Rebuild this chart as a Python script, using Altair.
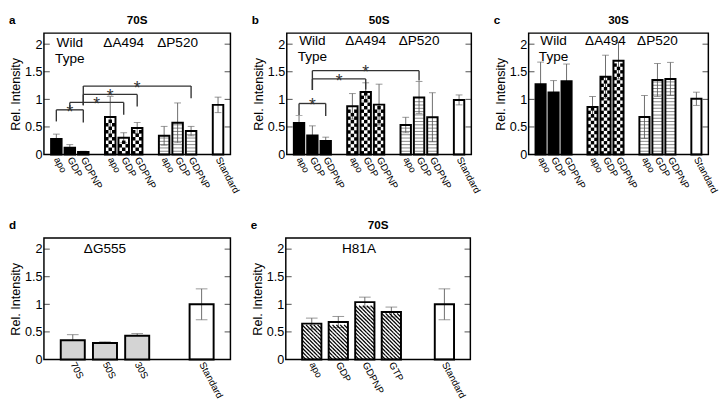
import altair as alt
import pandas as pd
import numpy as np

# ---------------- data ----------------
TOP_COND = ["apo", "GDP", "GDPNP", "apo", "GDP", "GDPNP", "apo", "GDP", "GDPNP", "Standard"]
TOP_GRP = ["WT", "WT", "WT", "A494", "A494", "A494", "P520", "P520", "P520", "Std"]

A_VAL = [0.28, 0.125, 0.045, 0.68, 0.305, 0.48, 0.34, 0.575, 0.425, 0.90]
A_ERR = [0.09, 0.055, 0.015, 0.375, 0.09, 0.10, 0.17, 0.36, 0.085, 0.14]

B_VAL = [0.57, 0.345, 0.245, 0.875, 1.135, 0.905, 0.535, 1.035, 0.675, 0.99]
B_ERR = [0.14, 0.175, 0.07, 0.23, 0.165, 0.37, 0.14, 0.29, 0.445, 0.09]

C_VAL = [1.275, 1.125, 1.33, 0.86, 1.41, 1.70, 0.68, 1.35, 1.37, 1.01]
C_ERR = [0.40, 0.215, 0.31, 0.19, 0.39, 0.33, 0.39, 0.30, 0.30, 0.12]

D_COND = ["70S", "50S", "30S", "Standard"]
D_GRP = ["G555", "G555", "G555", "Std"]
D_VAL = [0.35, 0.30, 0.43, 1.00]
D_ERR = [0.10, 0.02, 0.04, 0.28]

E_COND = ["apo", "GDP", "GDPNP", "GTP", "Standard"]
E_GRP = ["H81A", "H81A", "H81A", "H81A", "Std"]
E_VAL = [0.65, 0.68, 1.04, 0.86, 1.00]
E_ERR = [0.10, 0.10, 0.09, 0.09, 0.28]

# significance brackets: left bar, right bar, level, left-leg end, right-leg end
A_BR_LEFT = ["WT|apo", "WT|GDP", "WT|GDPNP", "WT|GDPNP"]
A_BR_RIGHT = ["WT|GDPNP", "A494|GDP", "A494|GDPNP", "P520|GDPNP"]
A_BR_LEVEL = [0.81, 0.945, 1.09, 1.24]
A_BR_LEND = [0.60, 0.81, 0.895, 0.895]
A_BR_REND = [0.58, 0.72, 0.87, 1.02]

B_BR_LEFT = ["WT|apo", "WT|GDP", "WT|GDP"]
B_BR_RIGHT = ["WT|GDPNP", "A494|GDP", "P520|GDP"]
B_BR_LEVEL = [0.925, 1.37, 1.52]
B_BR_LEND = [0.715, 1.17, 1.17]
B_BR_REND = [0.70, 1.18, 1.34]

TOP_NOTE_KEYS = ["WT|GDP", "A494|GDP", "P520|GDP"]
TOP_NOTE_TEXT = ["Wild\nType", "\u0394A494", "\u0394P520"]
D_NOTE_KEYS = ["G555|50S"]
D_NOTE_TEXT = ["\u0394G555"]
E_NOTE_KEYS = ["H81A|GDPNP"]
E_NOTE_TEXT = ["H81A"]

Y_TICKS = [0, 0.5, 1, 1.5, 2]
SIDE_TICKS = [0.5, 1, 1.5, 2]

# ---------------- style ----------------
FONT = "Liberation Sans"
H = 125
YMAX = 2.2
PXU = H / YMAX
ERRC = "#6a6a6a"
LX = -36

FILL_DOMAIN = ["WT", "A494", "P520", "Std", "G555", "H81A"]
FILL_RANGE = ["black", "transparent", "transparent", "transparent", "#d4d4d4", "transparent"]

YSCALE = alt.Scale(domain=[0, YMAX], nice=False, zero=False)
YAXIS = alt.Axis(values=Y_TICKS, format="~g", domain=False, ticks=False, grid=False,
                 labelFontSize=13, labelPadding=2, labelFont=FONT, labelColor="black",
                 titleFontSize=13, titleFontWeight="normal", titleFont=FONT,
                 titleColor="black", titlePadding=2)


def Y(f):
    return alt.Y(f"{f}:Q", scale=YSCALE, axis=YAXIS, title="Rel. Intensity")


def build_keys(grps, conds):
    keys, prev, n = [], None, 0
    for g, c in zip(grps, conds):
        if prev is not None and g != prev:
            n += 1
            keys.append(f"gap{n}")
        keys.append(f"{g}|{c}")
        prev = g
    return keys


def cells(df, grp, ncols, cell_px, checker):
    step = cell_px / PXU
    rows = []
    for _, r in df[df.grp == grp].iterrows():
        nrow = int(np.floor(r.val / step + 1e-9))
        for i in range(nrow):
            for j in range(ncols):
                if (not checker) or (i + j) % 2 == 0:
                    rows.append({"key": r.key, "col": j, "py": (i + 0.5) * step})
    return pd.DataFrame(rows)


def stripes(df, grp, gap_px):
    step = gap_px / PXU
    rows = []
    for _, r in df[df.grp == grp].iterrows():
        k = 1
        while k * step < r.val - 0.4 * step:
            rows.append({"key": r.key, "py": k * step})
            k += 1
    return pd.DataFrame(rows)


def panel(grp, cond, val, err, width, pin, pout, title, letter, nkeys, ntext, ny,
          cap, brackets=None, ndx=0):
    keys = build_keys(grp, cond)
    n = len(keys)
    step = width / (n - pin + 2 * pout)
    bw = step * (1 - pin)
    xs = alt.Scale(domain=keys, paddingInner=pin, paddingOuter=pout)
    xa = alt.Axis(labelExpr="indexof(datum.label, '|') > 0 ? split(datum.label, '|')[1] : ''",
                  labelAngle=62, labelAlign="left", labelBaseline="middle", labelFontSize=10,
                  labelFont=FONT, labelColor="black", labelPadding=3, ticks=False,
                  domain=False, grid=False, labelOverlap=False, bandPosition=0.5)

    def X(f, **kw):
        return alt.X(f"{f}:N", scale=xs, axis=xa, title=None, **kw)

    bars = pd.DataFrame({"key": [f"{g}|{c}" for g, c in zip(grp, cond)], "grp": grp,
                         "val": val, "err": err})
    bars["lo"] = bars.val - bars.err
    bars["hi"] = bars.val + bars.err
    base = alt.Chart(bars)
    layers = [
        base.mark_rule(color=ERRC, strokeWidth=1).encode(x=X("key"), y=Y("lo"), y2="hi"),
        base.mark_tick(color=ERRC, thickness=1, size=cap).encode(x=X("key"), y=Y("hi")),
        base.mark_tick(color=ERRC, thickness=1, size=cap).encode(x=X("key"), y=Y("lo")),
    ]
    if "A494" in grp:
        nc = 3
        cell = bw / nc
        cdf = cells(bars, "A494", nc, cell, True)
        for j in range(nc):
            layers.append(alt.Chart(cdf[cdf.col == j]).mark_square(
                size=cell ** 2, color="black", opacity=1, strokeWidth=0).encode(
                x=X("key", bandPosition=(j + 0.5) / nc), y=Y("py")))
    if "P520" in grp:
        sdf = stripes(bars, "P520", 3.4)
        layers.append(alt.Chart(sdf).mark_tick(color="#555", thickness=1, size=bw - 1).encode(
            x=X("key"), y=Y("py")))
    if "H81A" in grp:
        nc = 5
        cell = bw / nc
        hdf = cells(bars, "H81A", nc, cell, False)
        for j in range(nc):
            layers.append(alt.Chart(hdf[hdf.col == j]).mark_point(
                shape="M-1,-1L1,1", size=cell ** 2, filled=False, color="black",
                strokeWidth=1.3, opacity=1).encode(
                x=X("key", bandPosition=(j + 0.5) / nc), y=Y("py")))
    layers.append(base.mark_bar(stroke="black", strokeWidth=2).encode(
        x=X("key"), y=Y("val"),
        fill=alt.Fill("grp:N", scale=alt.Scale(domain=FILL_DOMAIN, range=FILL_RANGE), legend=None)))
    if brackets:
        left, right, level, lend, rend = brackets
        mids = [keys[(keys.index(l) + keys.index(r)) // 2] for l, r in zip(left, right)]
        bdf = pd.DataFrame({"left": left, "right": right, "level": level, "lend": lend,
                            "rend": rend, "mid": mids})
        bb = alt.Chart(bdf)
        layers += [
            bb.mark_rule(color="#333", strokeWidth=1.4).encode(x=X("left"), x2=alt.X2("right"), y=Y("level")),
            bb.mark_rule(color="#333", strokeWidth=1.4).encode(x=X("left"), y=Y("level"), y2=alt.Y2("lend")),
            bb.mark_rule(color="#333", strokeWidth=1.4).encode(x=X("right"), y=Y("level"), y2=alt.Y2("rend")),
            bb.mark_text(text="*", fontSize=18, font=FONT, dy=8, baseline="alphabetic",
                         color="#333").encode(x=X("mid"), y=Y("level")),
        ]
    ndf = pd.DataFrame({"nkey": nkeys, "ntext": ntext, "ny": [ny] * len(nkeys)})
    layers.append(alt.Chart(ndf).mark_text(fontSize=14, font=FONT, lineBreak="\n", lineHeight=16,
                                           align="center", baseline="alphabetic", color="black",
                                           dx=ndx).encode(
        x=X("nkey"), y=Y("ny"), text="ntext:N"))
    tdf = pd.DataFrame({"t": SIDE_TICKS})
    layers.append(alt.Chart(tdf).mark_tick(color="black", thickness=1, size=6).encode(
        y=Y("t"), x=alt.value(3)))
    layers.append(alt.Chart(tdf).mark_tick(color="black", thickness=1, size=6).encode(
        y=Y("t"), x=alt.value(width - 3)))
    layers.append(alt.Chart(pd.DataFrame({"t": [letter]})).mark_text(
        fontSize=12, fontWeight="bold", font=FONT, align="left", baseline="alphabetic",
        color="black").encode(x=alt.value(LX), y=alt.value(-9), text="t:N"))
    if title:
        layers.append(alt.Chart(pd.DataFrame({"t": [title]})).mark_text(
            fontSize=12, fontWeight="bold", font=FONT, align="center", baseline="alphabetic",
            color="black").encode(x=alt.value(width / 2), y=alt.value(-9), text="t:N"))
    return alt.layer(*layers).properties(width=width, height=H)


pa = panel(TOP_GRP, TOP_COND, A_VAL, A_ERR, 192, 0.22, 0.53, "70S", "a",
           TOP_NOTE_KEYS, TOP_NOTE_TEXT, 1.94, 7,
           brackets=(A_BR_LEFT, A_BR_RIGHT, A_BR_LEVEL, A_BR_LEND, A_BR_REND))
pb = panel(TOP_GRP, TOP_COND, B_VAL, B_ERR, 190, 0.22, 0.53, "50S", "b",
           TOP_NOTE_KEYS, TOP_NOTE_TEXT, 1.98, 7,
           brackets=(B_BR_LEFT, B_BR_RIGHT, B_BR_LEVEL, B_BR_LEND, B_BR_REND))
pc = panel(TOP_GRP, TOP_COND, C_VAL, C_ERR, 185, 0.22, 0.53, "30S", "c",
           TOP_NOTE_KEYS, TOP_NOTE_TEXT, 1.98, 7)
pdd = panel(D_GRP, D_COND, D_VAL, D_ERR, 192, 0.254, 0.522, "", "d",
            D_NOTE_KEYS, D_NOTE_TEXT, 1.93, 12)
pe = panel(E_GRP, E_COND, E_VAL, E_ERR, 190, 0.275, 0.616, "70S", "e",
           E_NOTE_KEYS, E_NOTE_TEXT, 1.93, 12, ndx=-6)

row1 = alt.hconcat(pa, pb, pc, spacing=10)
row2 = alt.hconcat(pdd, pe, spacing=19)
chart = alt.vconcat(row1, row2, spacing=24).properties(
    padding={"left": 0, "top": 0, "right": 0, "bottom": 0}, background="white"
).configure_view(stroke="black", strokeWidth=1.5)

chart.save("out.html", embed_options={"renderer": "svg", "actions": False})
